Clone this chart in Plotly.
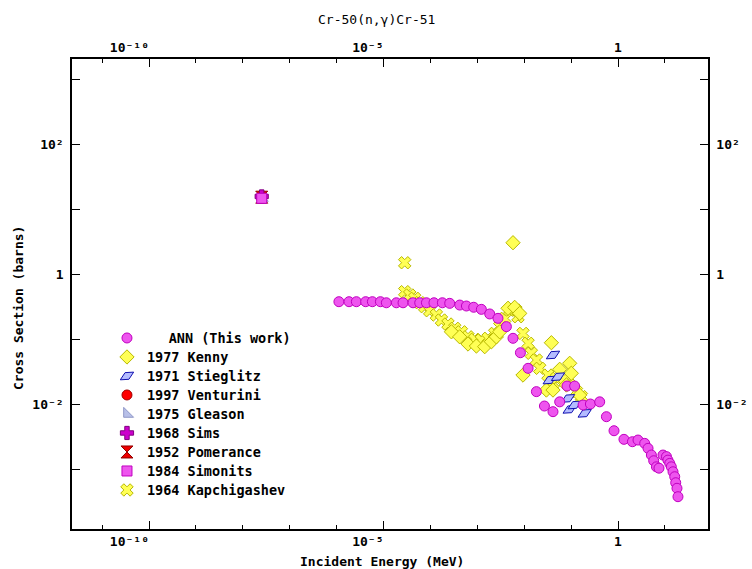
import plotly.graph_objects as go

# ---------------- data (Energy in MeV, cross section in barns) ----------------
ann_E = [1.12e-6, 1.84e-6, 2.64e-6, 4.17e-6, 5.79e-6, 8.59e-6,
         1.15e-5, 1.88e-5, 2.61e-5, 4.26e-5, 5.92e-5, 8.22e-5, 1.19e-4, 1.80e-4,
         2.58e-4, 4.22e-4, 5.86e-4, 8.38e-4, 1.22e-3, 1.84e-3, 2.76e-3, 4.17e-3, 5.77e-3, 8.30e-3,
         1.21e-2, 1.82e-2, 2.70e-2, 4.11e-2, 5.71e-2, 8.18e-2, 0.119, 0.180, 0.258, 0.407, 0.566, 0.822,
         1.34, 2.03, 2.67, 3.71, 4.37, 5.15, 5.77, 6.59, 7.48, 9.10, 10.8, 11.6, 12.7, 13.7,
         14.9, 16.2, 17.0, 18.1, 19.0]
ann_xs = [0.375, 0.375, 0.375, 0.375, 0.375, 0.375,
          0.361, 0.361, 0.361, 0.361, 0.361, 0.361, 0.361, 0.361,
          0.354, 0.333, 0.322, 0.308, 0.286, 0.243, 0.208, 0.155, 0.1025, 0.0615,
          0.0354, 0.0155, 0.00931, 0.00762, 0.0108, 0.0189, 0.0189, 0.00966, 0.0100, 0.0108, 0.00638, 0.00388,
          0.00286, 0.00263, 0.00279, 0.00248, 0.00208, 0.00164, 0.00134, 0.00108, 0.00103, 0.00164,
          0.00155, 0.00137, 0.00122, 0.00108, 0.000907, 0.000761, 0.000615, 0.000505, 0.000375]

kenny_E = [5.77e-3, 2.81e-4, 4.22e-4, 6.34e-4, 9.57e-4, 1.44e-3, 2.00e-3, 2.55e-3, 3.01e-3,
           4.52e-3, 6.26e-3, 8.02e-3, 9.42e-3, 2.97e-2, 3.80e-2, 5.71e-2, 9.33e-2, 0.101,
           0.152, 7.94e-2, 4.11e-2]
kenny_xs = [3.03, 0.129, 0.108, 0.0838, 0.078, 0.0762, 0.0908, 0.108, 0.129,
            0.297, 0.307, 0.248, 0.0279, 0.0164, 0.0877, 0.0342, 0.0423, 0.0297,
            0.0137, 0.0196, 0.0164]

stieglitz_E = [4.11e-2, 3.50e-2, 5.26e-2, 8.59e-2, 9.33e-2, 0.119, 0.195]
stieglitz_xs = [0.0568, 0.0234, 0.0263, 0.0122, 0.00828, 0.00966, 0.00719]

venturini_E = [2.53e-8]
venturini_xs = [14.6]
gleason_E = [2.53e-8]
gleason_xs = [14.8]
sims_E = [2.53e-8]
sims_xs = [15.6]
pomerance_E = [2.53e-8]
pomerance_xs = [15.2]
simonits_E = [2.53e-8]
simonits_xs = [14.6]

kapch_E = [2.83e-5, 2.83e-5, 3.62e-5, 4.62e-5, 5.92e-5, 7.55e-5, 9.66e-5, 1.34e-4, 1.72e-4,
           2.37e-4, 3.30e-4, 4.58e-4, 6.34e-4, 8.81e-4, 1.22e-3, 1.69e-3, 2.35e-3, 3.01e-3,
           3.84e-3, 4.91e-3, 6.59e-3, 7.38e-3, 9.42e-3, 1.21e-2, 1.42e-2, 1.82e-2, 2.14e-2,
           3.21e-2, 4.11e-2, 4.86e-2, 7.31e-2, 9.33e-2, 0.130, 0.166]
kapch_xs = [1.49, 0.535, 0.475, 0.423, 0.362, 0.314, 0.272, 0.234, 0.196,
            0.170, 0.146, 0.129, 0.108, 0.0989, 0.0966, 0.1025, 0.122, 0.155,
            0.208, 0.279, 0.279, 0.220, 0.122, 0.0859, 0.0603, 0.0475, 0.0354,
            0.0279, 0.0208, 0.0248, 0.0248, 0.0196, 0.0155, 0.0130]

x_tickvals = [1e-10, 1e-5, 1]
x_ticktext = ["10\u207b\u00b9\u2070", "10\u207b\u2075", "1"]
x_tickpad = [5, 4, 0]
x_minorvals = [10.0 ** k for k in range(-11, 2)]
y_tickvals = [1e-2, 1, 1e2]
y_ticktext = ["10\u207b\u00b2", "1", "10\u00b2"]
y_minorvals = [10.0 ** k for k in range(-3, 4)]

title_text = "Cr-50(n,\u03b3)Cr-51"
xlabel = "Incident Energy (MeV)"
ylabel = "Cross Section (barns)"

FONT = "DejaVu Sans Mono"

def nm(s):
    return '<span style="font-size:13.5px">' + s + '</span>'

fig = go.Figure()

def add(E, xs, name, rank, marker, top=False, prefix=""):
    fig.add_trace(go.Scatter(x=E, y=xs, mode="markers", name=prefix + nm(name),
                             legendrank=rank, marker=marker, hoverinfo="skip",
                             xaxis="x2" if top else "x", yaxis="y2" if top else "y"))

add(kapch_E, kapch_xs, "1964 Kapchigashev", 9,
    dict(symbol="x", size=11, color="#ffff55", line=dict(color="#b8b800", width=1)))
add(kenny_E, kenny_xs, "1977 Kenny", 2,
    dict(symbol="diamond", size=11, color="#ffff55", line=dict(color="#b8b800", width=1)))
add(stieglitz_E, stieglitz_xs, "1971 Stieglitz", 3,
    dict(symbol="diamond-wide", size=11, angle=-30, color="#b4bcff", line=dict(color="#1010b0", width=1)))
add(ann_E, ann_xs, "ANN (This work)", 1,
    dict(symbol="circle", size=10, color="#ee55ee", line=dict(color="#c000c0", width=1)),
    prefix="\u00a0\u00a0\u00a0")
add(venturini_E, venturini_xs, "1997 Venturini", 4,
    dict(symbol="circle", size=10, color="#ff0000", line=dict(color="#a00000", width=1)))
add(gleason_E, gleason_xs, "1975 Gleason", 5,
    dict(symbol="triangle-sw", size=11, color="#b8c0e8", line=dict(color="#9098c8", width=1)))
add(pomerance_E, pomerance_xs, "1952 Pomerance", 7,
    dict(symbol="hourglass", size=12, color="#ee0000", line=dict(color="#900000", width=1)))
add(sims_E, sims_xs, "1968 Sims", 6,
    dict(symbol="cross", size=11, color="#cc00cc", line=dict(color="#800080", width=1)))
add(simonits_E, simonits_xs, "1984 Simonits", 8,
    dict(symbol="square", size=10, color="#ee55ee", line=dict(color="#c000c0", width=1)), top=True)

xr = [-11.642, 1.919]
yr = [-3.923, 3.308]
axfont = dict(family=FONT, size=13, color="black", weight="bold")

common_x = dict(type="log", range=xr, autorange=False, automargin=False,
                tickmode="array", tickvals=x_tickvals,
                ticktext=[t + "\u00a0" * n for t, n in zip(x_ticktext, x_tickpad)],
                ticks="inside", ticklen=8, tickwidth=1, tickcolor="black",
                showline=True, linecolor="black", linewidth=1.5, showgrid=False,
                zeroline=False, tickfont=axfont,
                minor=dict(tickmode="array", tickvals=x_minorvals, ticks="inside",
                           ticklen=4, tickwidth=1, tickcolor="black", showgrid=False))
common_y = dict(type="log", range=yr, autorange=False, automargin=False,
                tickmode="array", tickvals=y_tickvals,
                ticktext=y_ticktext, ticks="inside", ticklen=8, tickwidth=1, tickcolor="black",
                showline=True, linecolor="black", linewidth=1.5, showgrid=False,
                zeroline=False, tickfont=axfont, ticklabelstandoff=4,
                minor=dict(tickmode="array", tickvals=y_minorvals, ticks="inside",
                           ticklen=8, tickwidth=1, tickcolor="black", showgrid=False))

fig.update_layout(
    width=752, height=569,
    margin=dict(l=72, r=44, t=59, b=40, autoexpand=False),
    paper_bgcolor="white", plot_bgcolor="white",
    font=dict(family=FONT, color="black"),
    xaxis=dict(**common_x),
    yaxis=dict(**common_y),
    xaxis2=dict(**common_x, overlaying="x", side="top"),
    yaxis2=dict(**common_y, overlaying="y", side="right"),
    showlegend=True,
    legend=dict(x=0.055, y=0.4373, xanchor="left", yanchor="top",
                bgcolor="rgba(0,0,0,0)", borderwidth=0,
                font=dict(family=FONT, size=12, color="black", weight="bold"),
                itemclick=False, itemdoubleclick=False),
    annotations=[
        dict(text=title_text, xref="paper", yref="paper", x=(376 - 72) / 636, y=1 + (59 - 20) / 470,
             xanchor="center", yanchor="middle", showarrow=False,
             font=dict(family=FONT, size=13, color="black")),
        dict(text=xlabel, xref="paper", yref="paper", x=(381.5 - 72) / 636, y=-(561 - 529) / 470,
             xanchor="center", yanchor="middle", showarrow=False,
             font=dict(family=FONT, size=13, color="black", weight="bold")),
        dict(text=ylabel, xref="paper", yref="paper", x=-(72 - 18) / 636, y=1 - (308 - 59) / 470,
             xanchor="center", yanchor="middle", showarrow=False, textangle=-90,
             font=dict(family=FONT, size=13, color="black", weight="bold")),
    ],
)

fig.write_html("out.html")
